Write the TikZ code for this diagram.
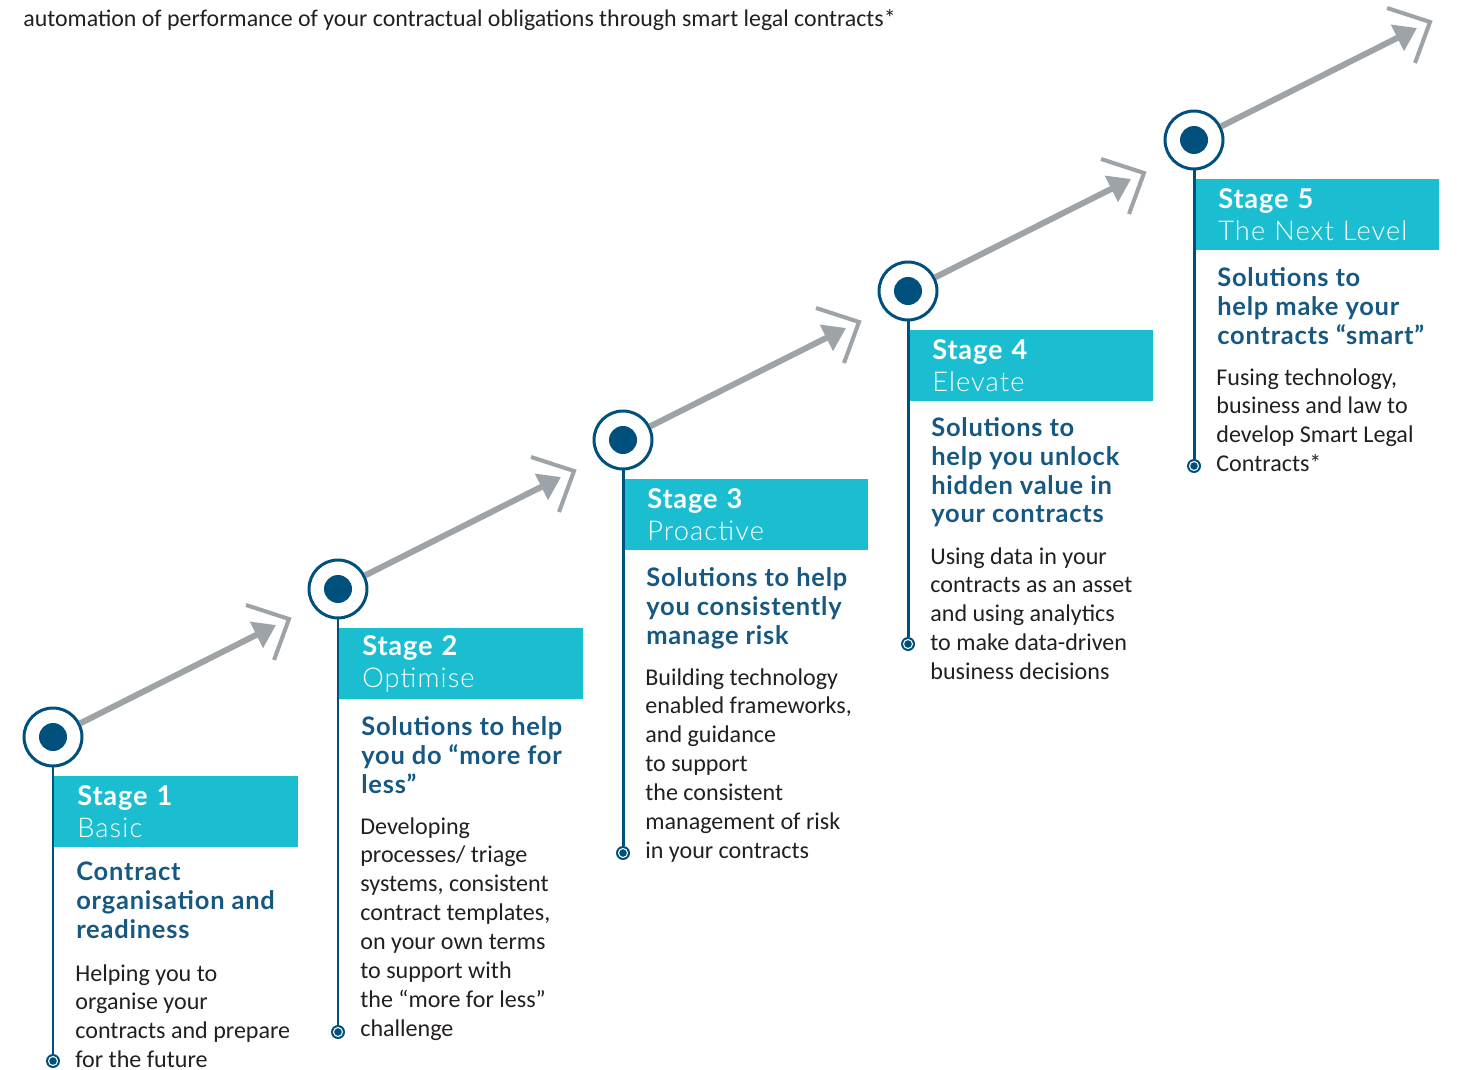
\documentclass[tikz,border=0pt]{standalone}
\usepackage{fontspec}
\setmainfont{Carlito}
\newfontfamily\headfont{Lato}[LetterSpace=3]
\newfontfamily\lightfont{Lato Light}[LetterSpace=4]
\usetikzlibrary{arrows.meta,calc}

\definecolor{navy}{RGB}{0,80,125}
\definecolor{headblue}{RGB}{22,88,130}
\definecolor{boxcyan}{RGB}{27,190,208}
\definecolor{arrowgray}{RGB}{157,163,166}
\definecolor{bodygray}{RGB}{35,31,32}

\tikzset{
  ring/.style={circle,draw=navy,line width=1.7pt,fill=white,minimum size=1.16cm,inner sep=0pt,
    path picture={\fill[navy] (path picture bounding box.center) circle (0.28cm);}},
  enddot/.style={circle,fill=navy,minimum size=0.28cm,inner sep=0pt,
    path picture={\draw[white,line width=0.6pt] (path picture bounding box.center) circle (0.09cm);}},
  stem/.style={draw=navy,line width=1.7pt},
  climb/.style={draw=arrowgray,line width=3.4pt,-{Triangle[length=12.5pt,width=16pt]}},
  chevron/.style={draw=arrowgray,line width=2.3pt},
  stagebox/.style={fill=boxcyan,anchor=north west,minimum height=1.42cm,text width=3.96cm,
    inner xsep=0.46cm,inner ysep=0pt,align=left,text=white,font=\headfont\fontsize{15.5}{18.2}\selectfont},
  headtext/.style={anchor=north west,inner sep=0pt,align=left,text=headblue,
    font=\headfont\bfseries\fontsize{14.5}{16.44}\selectfont},
  bodytext/.style={anchor=north west,inner sep=0pt,align=left,text=bodygray,
    font=\fontsize{13.7}{16.44}\selectfont}
}

\begin{document}
\begin{tikzpicture}[x=0.02cm,y=-0.02cm]
\useasboundingbox (0,0) rectangle (1462,1070);

\node[anchor=west,inner sep=0pt,text=bodygray,font=\fontsize{13.6}{15}\selectfont] (intro) at (23,20)
  {automation of performance of your contractual obligations through smart legal contracts*};

% the five stages
\foreach \i/\cx/\cy/\ey/\title in {1/53/737/1061/Basic, 2/338/589/1032/Optimise, 3/623/440/853/Proactive,
    4/908/291/644/Elevate, 5/1194/140/466/The Next Level}{
  \node[ring] (s\i) at (\cx,\cy) {};
  \coordinate (t\i) at (\cx+223,\cy-112);
  \draw[climb] (s\i) -- (t\i);
  \draw[chevron] (\cx+193,\cy-132) -- (\cx+236,\cy-118) -- (\cx+221,\cy-77);
  \node[stagebox] (b\i) at (\cx+1,\cy+39) {\textbf{Stage \i}\\{\lightfont \title}};
  \node[enddot] (e\i) at (\cx,\ey) {};
  \draw[stem] (s\i) -- (e\i);
}

\node[headtext] (h1) at ($(s1)+(23,125)$) {Contract\\organisation and\\readiness};
\node[bodytext] (p1) at ($(s1)+(22,227)$) {Helping you to\\organise your\\contracts and prepare\\for the future};

\node[headtext] (h2) at ($(s2)+(23,127)$) {Solutions to help\\you do “more for\\less”};
\node[bodytext] (p2) at ($(s2)+(22,228)$) {Developing\\processes/ triage\\systems, consistent\\contract templates,\\on your own terms\\to support with\\the “more for less”\\challenge};

\node[headtext] (h3) at ($(s3)+(23,127)$) {Solutions to help\\you consistently\\manage risk};
\node[bodytext] (p3) at ($(s3)+(22,228)$) {Building technology\\enabled frameworks,\\and guidance\\to support\\the consistent\\management of risk\\in your contracts};

\node[headtext] (h4) at ($(s4)+(23,126)$) {Solutions to\\help you unlock\\hidden value in\\your contracts};
\node[bodytext] (p4) at ($(s4)+(22,256)$) {Using data in your\\contracts as an asset\\and using analytics\\to make data-driven\\business decisions};

\node[headtext] (h5) at ($(s5)+(23,127)$) {Solutions to\\help make your\\contracts “smart”};
\node[bodytext] (p5) at ($(s5)+(22,228)$) {Fusing technology,\\business and law to\\develop Smart Legal\\Contracts*};
\end{tikzpicture}
\end{document}
